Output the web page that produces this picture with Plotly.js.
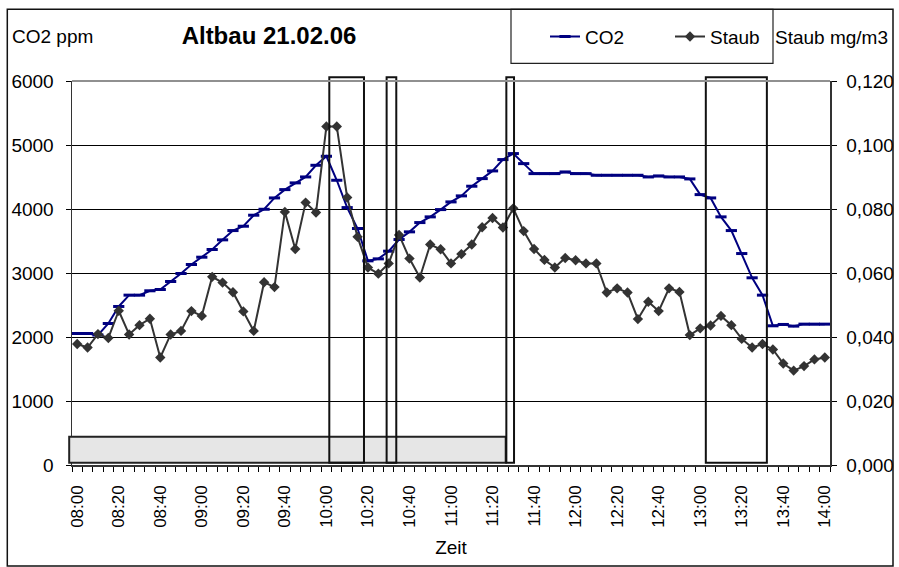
<!DOCTYPE html>
<html>
<head>
<meta charset="utf-8">
<script src="https://cdn.plot.ly/plotly-3.0.1.min.js"></script>
<style>html,body{margin:0;padding:0;background:#fff}#chart{width:899px;height:567px}</style>
</head>
<body>
<div id="chart"></div>
<script>
const times = ["08:00","08:05","08:10","08:15","08:20","08:25","08:30","08:35","08:40","08:45","08:50","08:55",
"09:00","09:05","09:10","09:15","09:20","09:25","09:30","09:35","09:40","09:45","09:50","09:55",
"10:00","10:05","10:10","10:15","10:20","10:25","10:30","10:35","10:40","10:45","10:50","10:55",
"11:00","11:05","11:10","11:15","11:20","11:25","11:30","11:35","11:40","11:45","11:50","11:55",
"12:00","12:05","12:10","12:15","12:20","12:25","12:30","12:35","12:40","12:45","12:50","12:55",
"13:00","13:05","13:10","13:15","13:20","13:25","13:30","13:35","13:40","13:45","13:50","13:55","14:00"];

const co2 = [2055,2055,2030,2211,2477,2654,2654,2722,2742,2867,2992,3133,3247,3367,3518,3663,3731,3903,3996,4173,4303,4408,4501,4683,4824,
4449,4022,3695,3190,3221,3341,3523,3643,3788,3877,3991,4111,4205,4356,4475,4595,4772,4866,4709,4553,4553,4553,
4579,4553,4553,4527,4527,4527,4527,4527,4501,4517,4501,4501,4470,4225,4173,3877,3663,3304,2925,2654,2175,2196,2170,2201,2201,2201];

const staub = [0.0378,0.0367,0.0409,0.0397,0.0482,0.0408,0.0437,0.0457,0.0336,0.0408,0.0419,0.0481,0.0466,0.0588,0.0570,0.0540,0.0480,0.0419,0.0571,0.0556,0.0791,0.0675,0.0820,0.0789,0.1058,
0.1058,0.0836,0.0713,0.0617,0.0598,0.0630,0.0719,0.0645,0.0586,0.0689,0.0674,0.0630,0.0659,0.0689,0.0743,0.0772,0.0742,0.0802,0.0731,0.0675,0.0641,0.0617,
0.0647,0.0640,0.0630,0.0630,0.0539,0.0552,0.0539,0.0456,0.0510,0.0481,0.0552,0.0541,0.0406,0.0427,0.0436,0.0466,0.0437,0.0394,0.0367,0.0378,0.0361,0.0317,0.0295,0.0309,0.0330,0.0336];

const leftTicks = [0,1000,2000,3000,4000,5000,6000];
const rightTicks = [0,0.02,0.04,0.06,0.08,0.10,0.12];

const idx = times.map((t,i)=>i);
const labelIdx = idx.filter(i=>i%4===0);
const labelText = labelIdx.map(i=>times[i]);

const FONT = 'Liberation Sans, Arial, sans-serif';

// plot area in pixels: left 72, right 830, top 81, bottom 465
const L=72, R=830, T=81, B=465;
const px2x = p => (p-L)/(R-L);
const px2y = p => (B-p)/(B-T);
const cat2d = c => (c+0.5)/times.length;

// marked time windows (category units)
const windows = [[24.28,27.62],[29.8,30.73],[41.33,42.07],[60.54,66.42]];
const shapes = [];
shapes.push({type:'rect', xref:'x domain', yref:'y domain', x0:cat2d(-0.77), x1:cat2d(41.27), y0:0.006, y1:442/6000,
  fillcolor:'#e6e6e6', line:{color:'#222', width:2}, layer:'above'});
windows.forEach(w=>shapes.push({type:'rect', xref:'x domain', yref:'y domain', x0:cat2d(w[0]), x1:cat2d(w[1]), y0:0.006, y1:6058/6000,
  fillcolor:'rgba(0,0,0,0)', line:{color:'#111', width:2}, layer:'above'}));
// top border of plot area
shapes.push({type:'line', xref:'paper', yref:'paper', x0:0, x1:1, y0:1, y1:1, line:{color:'#909090', width:2}});
// legend box
shapes.push({type:'rect', xref:'paper', yref:'paper', x0:px2x(511), x1:px2x(773), y0:px2y(63.3), y1:px2y(9.3), line:{color:'#222', width:1.2}, fillcolor:'rgba(0,0,0,0)'});
// outer frame
shapes.push({type:'rect', xref:'paper', yref:'paper', x0:px2x(7.3), x1:px2x(893), y0:px2y(566), y1:px2y(9.3), line:{color:'#111', width:1.5}, fillcolor:'rgba(0,0,0,0)'});

const traces = [
  {x: idx, y: co2, name:'CO2', type:'scatter', mode:'lines+markers', yaxis:'y',
   line:{color:'#000080', width:2},
   marker:{symbol:'line-ew', size:8, color:'#000080', line:{color:'#000080', width:3}}},
  {x: idx, y: staub, name:'Staub', type:'scatter', mode:'lines+markers', yaxis:'y2',
   line:{color:'#333333', width:2},
   marker:{symbol:'diamond', size:8, color:'#333333'}}
];

const layout = {
  width:899, height:567,
  margin:{l:L, r:899-R, t:T, b:567-B, pad:0},
  paper_bgcolor:'#fff', plot_bgcolor:'#fff',
  separators:',.',
  font:{family:FONT, size:18, color:'#000'},
  title:{text:'<b>Altbau 21.02.06</b>', font:{family:FONT, size:24, color:'#000'}, x:269/899, xanchor:'center', xref:'container', y:1-36/567, yanchor:'middle', yref:'container'},
  showlegend:true,
  legend:{orientation:'h', x:px2x(545), xanchor:'left', y:px2y(36.7), yanchor:'middle', bgcolor:'rgba(0,0,0,0)', borderwidth:0, font:{family:FONT, size:19}, entrywidth:80, itemwidth:30},
  xaxis:{type:'linear', range:[-0.5, times.length-0.5], tickmode:'array', tickvals:labelIdx, ticktext:labelText,
    tickangle:-90, ticks:'', ticklabelstandoff:12, tickfont:{family:FONT, size:17},
    showgrid:false, zeroline:false, showline:true, linecolor:'#333', linewidth:1.5,
    minor:{ticks:'outside', tick0:-0.5, dtick:1, ticklen:5, tickcolor:'#000', tickwidth:1, showgrid:false},
    title:{text:'Zeit', font:{family:FONT, size:19}, standoff:14}},
  yaxis:{range:[0,6000], tickmode:'array', tickvals:leftTicks, ticks:'outside', ticklen:5, tickcolor:'#000',
    showgrid:true, gridcolor:'#000', gridwidth:1, zeroline:false, showline:true, linecolor:'#333', linewidth:1.5,
    ticklabelstandoff:8, tickfont:{family:FONT, size:19}},
  yaxis2:{range:[0,0.12], overlaying:'y', side:'right', tickmode:'array', tickvals:rightTicks, tickformat:'.3f',
    ticks:'outside', ticklen:5, tickcolor:'#000', showgrid:false, zeroline:false, showline:true, linecolor:'#333', linewidth:1.5,
    ticklabelstandoff:6, tickfont:{family:FONT, size:19}},
  shapes: shapes,
  annotations:[
    {text:'CO2 ppm', xref:'paper', yref:'paper', x:px2x(10), y:px2y(36), xanchor:'left', yanchor:'middle', showarrow:false, font:{family:FONT, size:19}},
    {text:'Staub mg/m3', xref:'paper', yref:'paper', x:px2x(773), y:px2y(38), xanchor:'left', yanchor:'middle', showarrow:false, font:{family:FONT, size:19}}
  ]
};

Plotly.newPlot('chart', traces, layout, {staticPlot:true, displayModeBar:false});
</script>
</body>
</html>
